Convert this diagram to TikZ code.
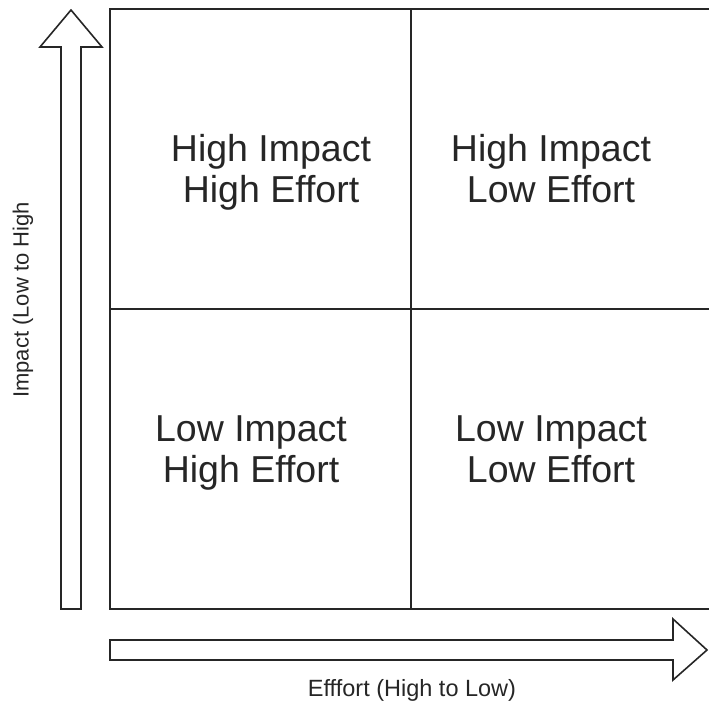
\documentclass[tikz,border=0pt]{standalone}
\usepackage{fontspec}
\setmainfont{Liberation Sans}
\usepackage{tikz}

\begin{document}
\begin{tikzpicture}[x=1pt, y=-1pt,
  every node/.append style={align=center, text=black!85, inner sep=0pt},
  quad/.style={font=\fontsize{37.5}{41}\selectfont},
  axislabel/.style={font=\fontsize{22}{26}\selectfont},
  line/.style={draw=black!85, line width=1.6pt, line join=miter}]
\useasboundingbox (0,0) rectangle (709,712);
% grid
\draw[line] (110,9) rectangle (712,609);
\draw[line] (411,9) -- (411,609);
\draw[line] (110,309) -- (712,309);
% arrows
\draw[line] (61,609) -- (61,47) -- (40,47) -- (71,10) -- (102,47) -- (81,47) -- (81,609) -- cycle;
\draw[line] (110,640) -- (673,640) -- (673,619) -- (707,650) -- (673,680) -- (673,660) -- (110,660) -- cycle;
% quadrants
\node[quad] (hihe) at (271,174) {\strut High Impact\\\strut High Effort};
\node[quad] (hile) at (551,174) {\strut High Impact\\\strut Low Effort};
\node[quad] (lihe) at (251,454) {\strut Low Impact\\\strut High Effort};
\node[quad] (lile) at (551,454) {\strut Low Impact\\\strut Low Effort};
% axis labels
\node[axislabel, rotate=90] (impact) at (23,300) {Impact (Low to High};
\node[axislabel, font=\fontsize{23.5}{27}\selectfont] (effort) at (412,690) {Efffort (High to Low)};
\end{tikzpicture}
\end{document}
